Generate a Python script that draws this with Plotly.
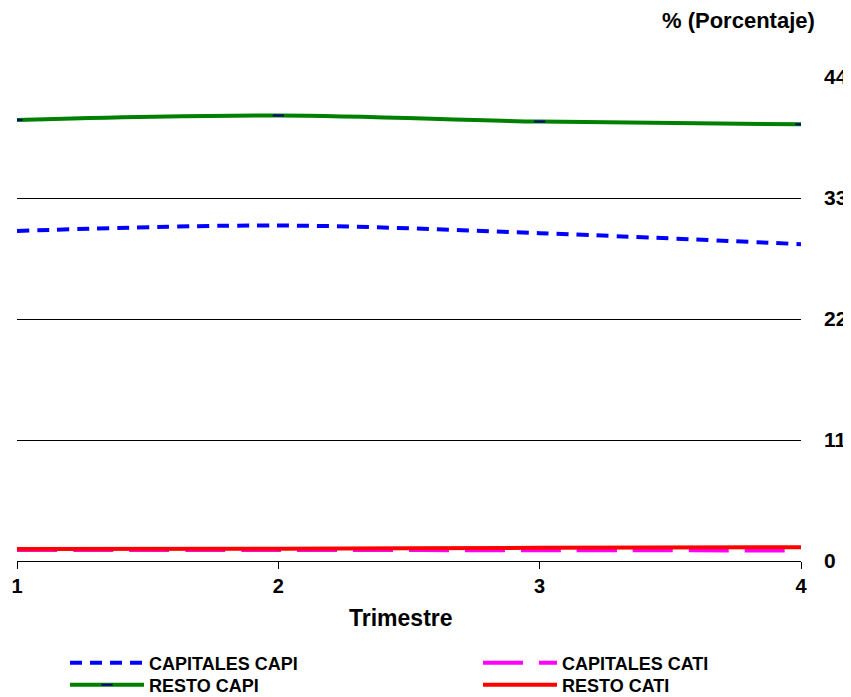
import plotly.graph_objects as go

trimestres = [1, 2, 3, 4]
capitales_capi = [30.0, 30.5, 29.8, 28.8]
capitales_cati = [1.0, 1.0, 0.98, 0.96]
resto_capi = [40.1, 40.5, 39.95, 39.7]
resto_cati = [1.1, 1.12, 1.2, 1.25]
y_ticks = [0, 11, 22, 33, 44]

FONT = "Liberation Sans"
LEG_FONT = dict(family=FONT, size=18, color="black", weight="bold")

fig = go.Figure()
fig.add_trace(go.Scatter(
    x=trimestres, y=capitales_capi, name="CAPITALES CAPI", mode="lines", legend="legend",
    line=dict(color="#0000ff", width=4, dash="12px,8px", shape="spline")))
fig.add_trace(go.Scatter(
    x=trimestres, y=capitales_cati, name="CAPITALES CATI", mode="lines", legend="legend2",
    line=dict(color="#ff00ff", width=4, dash="40px,16px", shape="spline")))
fig.add_trace(go.Scatter(
    x=trimestres, y=resto_capi, name="RESTO CAPI", mode="lines+markers", legend="legend3",
    line=dict(color="#008000", width=4, shape="spline"),
    marker=dict(symbol="line-ew", size=8, color="#000080",
                line=dict(color="#000080", width=2))))
fig.add_trace(go.Scatter(
    x=trimestres, y=resto_cati, name="RESTO CATI", mode="lines", legend="legend4",
    line=dict(color="#ff0000", width=4, shape="spline")))

# page body has an 8px margin; figure is sized to the visible area
OFF = 8
W, H = 851 - OFF, 697 - OFF
PLOT_L, PLOT_R, PLOT_T, PLOT_B = 17 - OFF, 801 - OFF, 77 - OFF, 561 - OFF
PW, PH = PLOT_R - PLOT_L, PLOT_B - PLOT_T


def px_x(x):  # screen px -> paper fraction
    return (x - OFF - PLOT_L) / PW


def px_y(y):
    return (PLOT_B - (y - OFF)) / PH


def leg(xpx, ypx):
    return dict(x=px_x(xpx), y=px_y(ypx), xanchor="left", yanchor="middle",
                orientation="h", font=LEG_FONT, itemwidth=74,
                bgcolor="rgba(0,0,0,0)", borderwidth=0)


fig.update_layout(
    width=W, height=H,
    margin=dict(l=PLOT_L, r=W - PLOT_R, t=PLOT_T, b=H - PLOT_B, autoexpand=False),
    paper_bgcolor="white", plot_bgcolor="white",
    font=dict(family=FONT, color="black", size=16),
    showlegend=True,
    legend=leg(65, 663),
    legend2=leg(478, 663),
    legend3=leg(65, 685),
    legend4=leg(478, 685),
    xaxis=dict(
        range=[1, 4], tickvals=trimestres, ticktext=[str(t) for t in trimestres],
        showgrid=False, zeroline=False, showline=True, linecolor="black", linewidth=1,
        ticks="outside", ticklen=7, tickcolor="black",
        tickfont=dict(family=FONT, size=20, weight="bold"),
    ),
    yaxis=dict(
        range=[0, 44], tickvals=y_ticks, side="right",
        showgrid=True, gridcolor="black", gridwidth=1, zeroline=False,
        showline=False, ticks="", ticklabelstandoff=22,
        tickfont=dict(family=FONT, size=21, weight="bold"),
    ),
    annotations=[
        dict(text="% (Porcentaje)", xref="paper", yref="paper", x=px_x(817), y=1.0,
             xanchor="right", yanchor="bottom", yshift=42, showarrow=False,
             font=dict(family=FONT, size=22, weight="bold")),
        dict(text="Trimestre", xref="paper", yref="paper", x=px_x(401), y=px_y(618),
             xanchor="center", yanchor="middle", showarrow=False,
             font=dict(family=FONT, size=23, weight="bold")),
    ],
)

fig.write_html("out.html")
